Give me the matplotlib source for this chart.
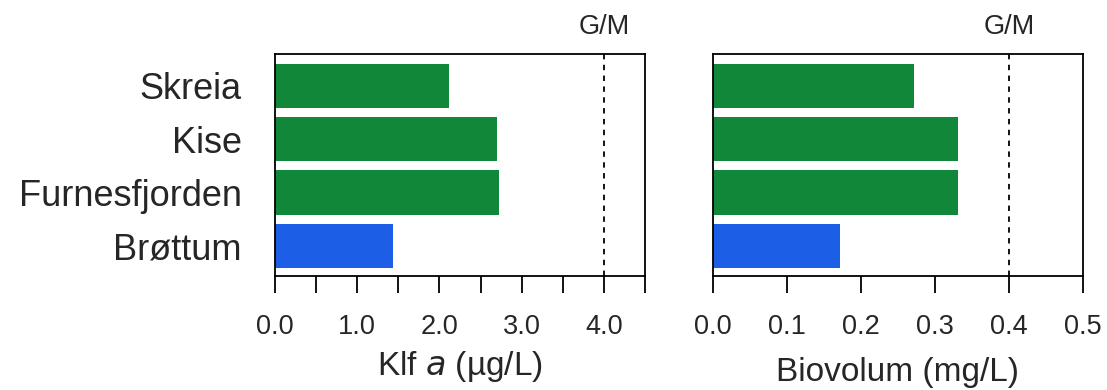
import matplotlib.pyplot as plt
from matplotlib.ticker import MultipleLocator

plt.rcParams['font.family'] = ['Liberation Sans', 'DejaVu Sans']

# data
lakes = ["Skreia", "Kise", "Furnesfjorden", "Brøttum"]
klf = [2.11, 2.70, 2.73, 1.43]
biovol = [0.272, 0.331, 0.331, 0.172]
bar_colors = ["#11873a", "#11873a", "#11873a", "#1c5fe6"]
klf_limit = 4.0
bio_limit = 0.4

fig = plt.figure(figsize=(11.07, 3.9), dpi=100)
ax1 = fig.add_axes([0.2484, 0.292, 0.3343, 0.5695])
ax2 = fig.add_axes([0.644, 0.292, 0.3343, 0.5695])

ypos = [3, 2, 1, 0]
txt = "#262626"

for ax, vals, lim, xmax in [(ax1, klf, klf_limit, 4.5), (ax2, biovol, bio_limit, 0.5)]:
    ax.barh(ypos, vals, height=0.83, color=bar_colors)
    ax.axvline(lim, color="black", linestyle=(0, (3, 3)), linewidth=1.3)
    ax.text(lim, 1.065, "G/M", transform=ax.get_xaxis_transform(),
            ha="center", va="bottom", fontsize=19.5, color=txt)
    ax.set_xlim(0, xmax)
    ax.set_ylim(-0.57, 3.6)
    for s in ax.spines.values():
        s.set_linewidth(1.3)
    ax.tick_params(axis="x", which="both", direction="out", length=12, width=1.3,
                   labelsize=19.5, labelcolor=txt, pad=15.5)
    ax.tick_params(axis="y", length=0)

ax1.set_yticks(ypos)
ax1.set_yticklabels(lakes, fontsize=26, color=txt)
ax1.tick_params(axis="y", pad=24)
ax1.xaxis.set_major_locator(MultipleLocator(1.0))
ax1.xaxis.set_minor_locator(MultipleLocator(0.5))
ax1.xaxis.set_major_formatter(lambda v, p: f"{v:.1f}")
ax1.set_xlabel(r"Klf $\mathit{a}$ (µg/L)", fontsize=24, color=txt, labelpad=6)

ax2.set_yticks([])
ax2.xaxis.set_major_locator(MultipleLocator(0.1))
ax2.xaxis.set_major_formatter(lambda v, p: f"{v:.1f}")
ax2.set_xlabel("Biovolum (mg/L)", fontsize=24, color=txt, labelpad=12)

fig.savefig("out.png", dpi=100)
